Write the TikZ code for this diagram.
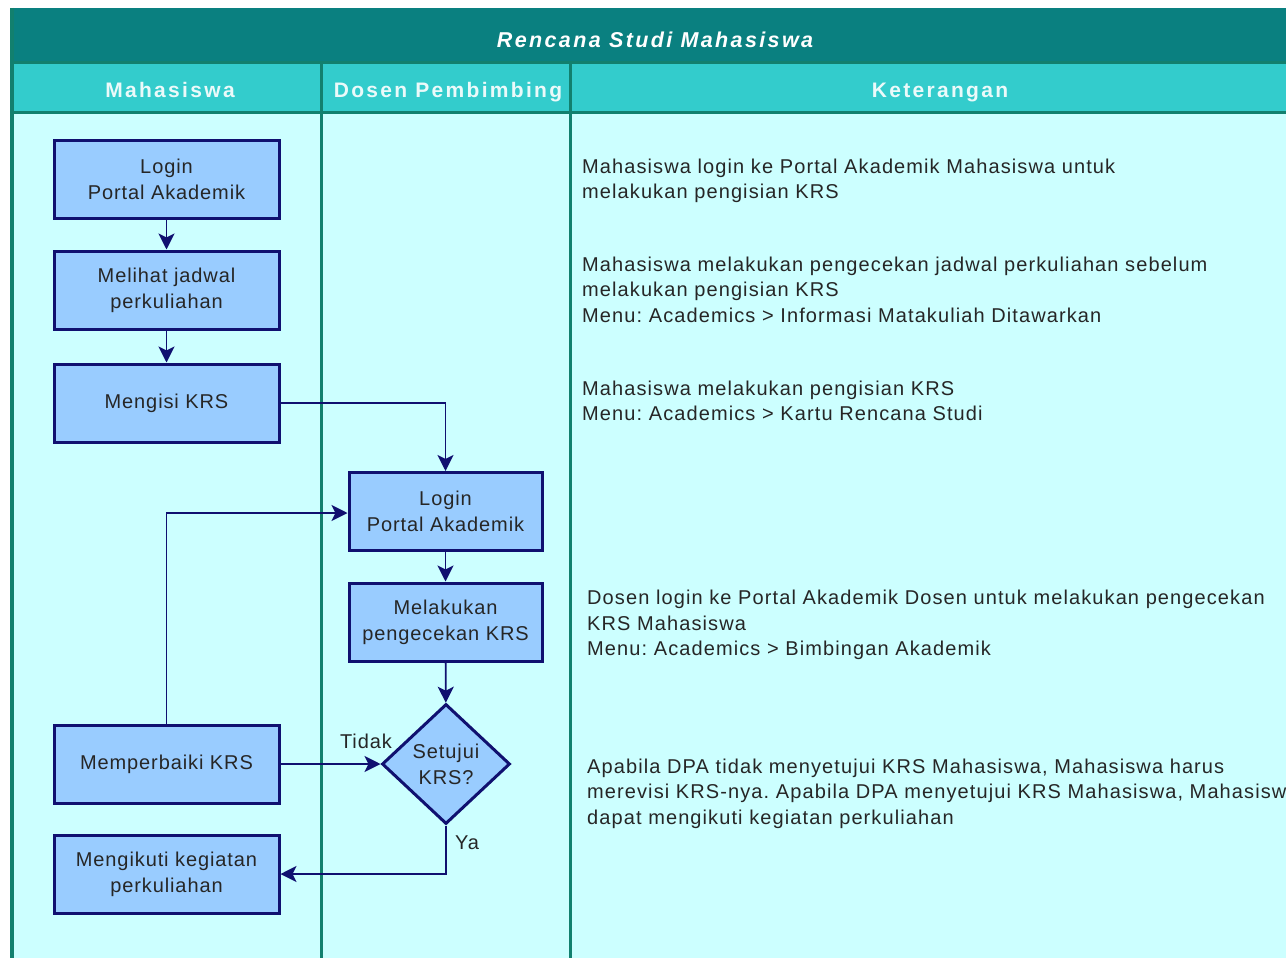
\documentclass[tikz,border=0pt]{standalone}
\usepackage{fontspec}
\setmainfont{Liberation Sans}
\newfontfamily\headfont[LetterSpace=11]{Liberation Sans}
\newfontfamily\boxfont[LetterSpace=4.5]{Liberation Sans}
\newfontfamily\notefont[LetterSpace=5.5]{Liberation Sans}
\usetikzlibrary{shapes.geometric,arrows.meta}
\definecolor{band}{HTML}{0A8080}
\definecolor{headrow}{HTML}{33CCCC}
\definecolor{lanebg}{HTML}{CCFFFF}
\definecolor{laneline}{HTML}{12806E}
\definecolor{boxfill}{HTML}{99CCFF}
\definecolor{navy}{HTML}{101070}
\definecolor{ink}{HTML}{262626}
\frenchspacing
\begin{document}
\begin{tikzpicture}[x=1pt,y=-1pt,
  stepbox/.style={draw=navy,line width=3pt,fill=boxfill,minimum width=225pt,minimum height=78pt,
    align=center,text=ink,font=\boxfont\fontsize{20}{26}\selectfont,inner sep=0pt},
  smallbox/.style={stepbox,minimum width=193pt},
  decision/.style={diamond,draw=navy,line width=3pt,fill=boxfill,minimum width=128pt,minimum height=120pt,
    align=center,text=ink,font=\boxfont\fontsize{20}{26}\selectfont,inner sep=0pt},
  flow/.style={draw=navy,line width=1.8pt,-{Stealth[length=16pt,width=16pt,inset=4pt]}},
  note/.style={anchor=west,align=left,text=ink,inner sep=0pt,font=\notefont\fontsize{20}{25.6}\selectfont},
  lanehead/.style={anchor=base,text=white!90!headrow,font=\headfont\bfseries\fontsize{21}{24}\selectfont},
  lbl/.style={text=ink,inner sep=0pt,font=\boxfont\fontsize{20}{24}\selectfont}]
\useasboundingbox (0,0) rectangle (1286,958);
\clip (0,0) rectangle (1286,958);
\fill[white] (0,0) rectangle (1286,958);
% swimlane frame
\fill[lanebg] (10,8) rectangle (1310,980);
\fill[band] (10,8) rectangle (1310,63);
\fill[headrow] (10,63) rectangle (1310,112);
\draw[laneline,line width=3pt] (10,63) -- (1310,63);
\draw[laneline,line width=3pt] (10,112) -- (1310,112);
\draw[laneline,line width=3.5pt] (12,8) -- (12,980);
\draw[laneline,line width=3pt] (321,63) -- (321,980);
\draw[laneline,line width=3pt] (570,63) -- (570,980);
\node[anchor=base,text=white,font=\headfont\bfseries\itshape\fontsize{21.5}{24}\selectfont] (title) at (655,48) {Rencana Studi Mahasiswa};
\node[lanehead] (h1) at (170,97) {Mahasiswa};
\node[lanehead] (h2) at (448,97) {Dosen Pembimbing};
\node[lanehead] (h3) at (940,97) {Keterangan};
% steps
\node[stepbox] (login1) at (166.5,179.5) {Login\\Portal Akademik};
\node[stepbox] (jadwal) at (166.5,290) {Melihat jadwal\\perkuliahan};
\node[stepbox] (isi) at (166.5,403) {Mengisi KRS};
\node[smallbox] (login2) at (445.5,511.5) {Login\\Portal Akademik};
\node[smallbox] (cek) at (445.5,622) {Melakukan\\pengecekan KRS};
\node[decision] (setuju) at (446,764) {Setujui\\KRS?};
\node[stepbox] (perbaiki) at (166.5,764) {Memperbaiki KRS};
\node[stepbox] (ikuti) at (166.5,874) {Mengikuti kegiatan\\perkuliahan};
% connectors
\draw[flow] (login1) -- (jadwal);
\draw[flow] (jadwal) -- (isi);
\draw[flow] (isi.east) -| (login2.north);
\draw[flow] (login2) -- (cek);
\draw[flow] (cek) -- (setuju);
\draw[flow] (perbaiki.north) |- ([yshift=-1.5pt]login2.west);
\draw[flow] (perbaiki.east) -- (setuju.west);
\draw[flow] (setuju.south) |- (ikuti.east);
\node[lbl] (tidak) at (366,741) {Tidak};
\node[lbl] (ya) at (467,843) {Ya};
% notes
\node[note] (n1) at (582,181) {Mahasiswa login ke Portal Akademik Mahasiswa untuk\\melakukan pengisian KRS};
\node[note] (n2) at (582,289.5) {Mahasiswa melakukan pengecekan jadwal perkuliahan sebelum\\melakukan pengisian KRS\\Menu: Academics > Informasi Matakuliah Ditawarkan};
\node[note] (n3) at (582,401) {Mahasiswa melakukan pengisian KRS\\Menu: Academics > Kartu Rencana Studi};
\node[note] (n4) at (587,625) {Dosen login ke Portal Akademik Dosen untuk melakukan pengecekan\\KRS Mahasiswa\\Menu: Academics > Bimbingan Akademik};
\node[note] (n5) at (587,793.5) {Apabila DPA tidak menyetujui KRS Mahasiswa, Mahasiswa harus\\merevisi KRS-nya. Apabila DPA menyetujui KRS Mahasiswa, Mahasiswa\\dapat mengikuti kegiatan perkuliahan};
\end{tikzpicture}
\end{document}
